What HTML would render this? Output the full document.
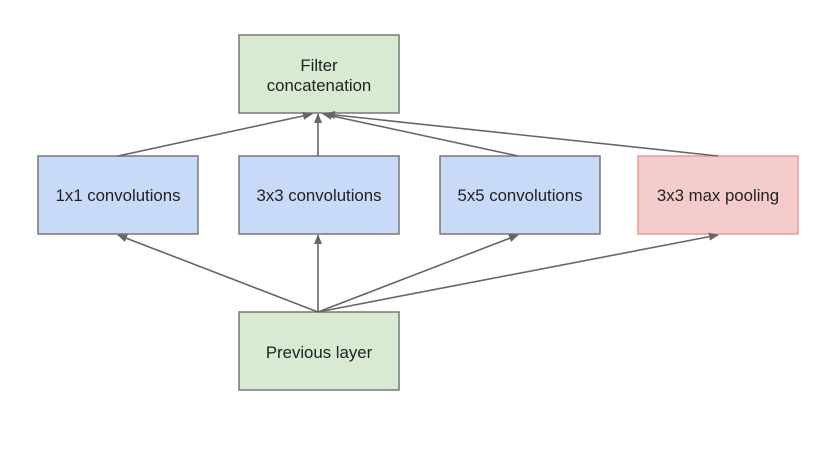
<!DOCTYPE html>
<html><head><style>
body{margin:0;background:#fff;width:838px;height:465px;overflow:hidden;font-family:"Liberation Sans",sans-serif}
</style></head><body>
<svg width="838" height="465" xmlns="http://www.w3.org/2000/svg" font-family="Liberation Sans, sans-serif" font-size="16.8" fill="#222">
<defs><marker id="a" markerWidth="10" markerHeight="8" refX="9" refY="4" orient="auto" markerUnits="userSpaceOnUse"><path d="M0,0 L10,4 L0,8 z" fill="#666"/></marker></defs>
<g stroke="#888" stroke-width="1.5">
<rect x="239" y="35" width="160" height="78" fill="#d9ead3" stroke="#777"/>
<rect x="38" y="156" width="160" height="78" fill="#c9daf8" stroke="#777"/>
<rect x="239" y="156" width="160" height="78" fill="#c9daf8" stroke="#777"/>
<rect x="440" y="156" width="160" height="78" fill="#c9daf8" stroke="#777"/>
<rect x="638" y="156" width="160" height="78" fill="#f4cccc" stroke="#ea9999"/>
<rect x="239" y="312" width="160" height="78" fill="#d9ead3" stroke="#777"/>
</g>
<g stroke="#666" stroke-width="1.6" fill="none" marker-end="url(#a)">
<line x1="118" y1="156" x2="312" y2="114"/>
<line x1="318" y1="156" x2="318" y2="114"/>
<line x1="518" y1="156" x2="323" y2="114"/>
<line x1="718" y1="156" x2="326" y2="114"/>
<line x1="318" y1="312" x2="118" y2="235"/>
<line x1="318" y1="312" x2="318" y2="235"/>
<line x1="318" y1="312" x2="518" y2="235"/>
<line x1="318" y1="312" x2="718" y2="235"/>
</g>
<g text-anchor="middle" stroke="none">
<text x="319" y="71">Filter</text>
<text x="319" y="91">concatenation</text>
<text x="118" y="201">1x1 convolutions</text>
<text x="319" y="201">3x3 convolutions</text>
<text x="520" y="201">5x5 convolutions</text>
<text x="718" y="201">3x3 max pooling</text>
<text x="319" y="358">Previous layer</text>
</g>
</svg>
</body></html>
